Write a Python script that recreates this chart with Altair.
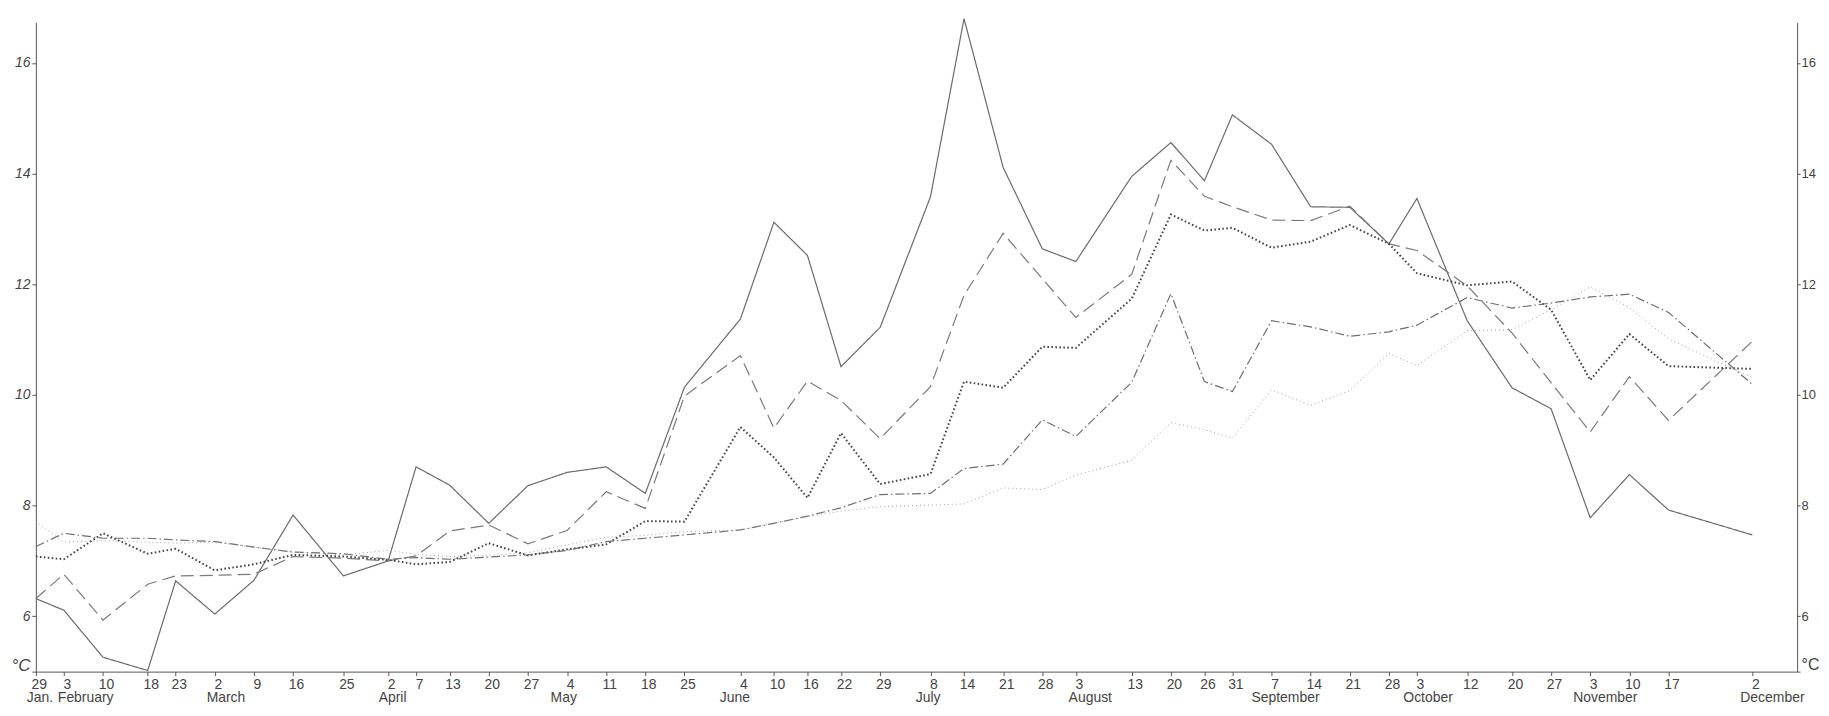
import altair as alt
import pandas as pd

# ---- data ----
dates = [
    "1925-01-29", "1925-02-03", "1925-02-10", "1925-02-18", "1925-02-23",
    "1925-03-02", "1925-03-09", "1925-03-16", "1925-03-25",
    "1925-04-02", "1925-04-07", "1925-04-13", "1925-04-20", "1925-04-27",
    "1925-05-04", "1925-05-11", "1925-05-18", "1925-05-25",
    "1925-06-04", "1925-06-10", "1925-06-16", "1925-06-22", "1925-06-29",
    "1925-07-08", "1925-07-14", "1925-07-21", "1925-07-28",
    "1925-08-03", "1925-08-13", "1925-08-20", "1925-08-26", "1925-08-31",
    "1925-09-07", "1925-09-14", "1925-09-21", "1925-09-28",
    "1925-10-03", "1925-10-12", "1925-10-20", "1925-10-27",
    "1925-11-03", "1925-11-10", "1925-11-17", "1925-12-02",
]

solid = [6.32, 6.11, 5.26, 5.02, 6.64, 6.04, 6.65, 7.83, 6.73,
         7.00, 8.70, 8.37, 7.68, 8.36, 8.60, 8.70, 8.22, 10.14,
         11.37, 13.12, 12.52, 10.51, 11.22, 13.58, 16.80, 14.11, 12.64,
         12.41, 13.95, 14.56, 13.87, 15.06, 14.53, 13.40, 13.39, 12.73,
         13.55, 11.34, 10.13, 9.75, 7.78, 8.56, 7.92, 7.47]

long_dash = [6.32, 6.76, 5.93, 6.58, 6.73, 6.74, 6.76, 7.08, 7.05,
             7.00, 7.09, 7.54, 7.65, 7.31, 7.55, 8.25, 7.95, 9.98,
             10.71, 9.40, 10.25, 9.90, 9.21, 10.15, 11.80, 12.92, 12.10,
             11.40, 12.18, 14.24, 13.59, 13.40, 13.16, 13.15, 13.41, 12.73,
             12.61, 11.97, 11.12, 10.22, 9.33, 10.33, 9.54, 10.97]

heavy_dot = [7.08, 7.03, 7.50, 7.13, 7.22, 6.83, 6.94, 7.11, 7.08,
             7.02, 6.94, 6.98, 7.32, 7.10, 7.21, 7.30, 7.72, 7.71,
             9.42, 8.87, 8.14, 9.31, 8.39, 8.57, 10.24, 10.13, 10.87,
             10.85, 11.74, 13.26, 12.97, 13.02, 12.66, 12.77, 13.07, 12.73,
             12.20, 11.98, 12.05, 11.54, 10.27, 11.10, 10.52, 10.47]

dash_dot = [7.26, 7.50, 7.41, 7.41, 7.38, 7.35, 7.25, 7.16, 7.13,
            7.03, 7.06, 7.03, 7.07, 7.11, 7.19, 7.35, 7.41, 7.47,
            7.56, 7.68, 7.81, 7.96, 8.20, 8.22, 8.67, 8.75, 9.55,
            9.25, 10.23, 11.83, 10.24, 10.06, 11.34, 11.23, 11.06, 11.14,
            11.26, 11.76, 11.57, 11.66, 11.77, 11.82, 11.49, 10.19]

light_dot = [7.71, 7.34, 7.37, 7.34, 7.32, 7.34, 7.25, 7.16, 7.11,
             7.19, 7.12, 7.08, 7.10, 7.15, 7.29, 7.43, 7.46, 7.53,
             7.56, 7.68, 7.80, 7.90, 7.98, 8.01, 8.03, 8.32, 8.29,
             8.55, 8.82, 9.50, 9.37, 9.22, 10.09, 9.81, 10.08, 10.75,
             10.53, 11.16, 11.18, 11.54, 11.95, 11.58, 11.01, 10.31]

month_names = ["Jan.", "February", "March", "April", "May", "June", "July",
               "August", "September", "October", "November", "December"]
month_label_at = ["1925-01-29T17:00:00", "1925-02-06T22:00:00", "1925-03-04T00:00:00",
                  "1925-04-02T19:00:00", "1925-05-03T10:00:00", "1925-06-03T00:00:00",
                  "1925-07-07T14:00:00", "1925-08-05T14:00:00", "1925-09-09T12:00:00",
                  "1925-10-05T00:00:00", "1925-11-05T17:00:00", "1925-12-05T14:00:00"]

y_ticks = [5, 6, 8, 10, 12, 14, 16]

# ---- styling ----
series_names = ["solid", "long dash", "heavy dots", "dash-dot", "light dots"]
series_vals = [solid, long_dash, heavy_dot, dash_dot, light_dot]
series_colors = ["#6a6a6a", "#7a7a7a", "#444444", "#6e6e6e", "#a0a0a0"]
series_dashes = [[1, 0], [13, 6], [1.6, 2.4], [9, 3, 1.5, 3], [1, 3]]
series_widths = [1.2, 1.2, 2.0, 1.2, 1.0]

rows = []
for name, vals in zip(series_names, series_vals):
    for d, v in zip(dates, vals):
        rows.append({"date": d + "T00:00:00", "temp": v, "series": name})
lines_df = pd.DataFrame(rows)
months_df = pd.DataFrame({"name": month_names, "at": month_label_at})

FONT = "Liberation Sans"
INK = "#444444"

x_scale = alt.Scale(domain=[alt.DateTime(year=1925, month=1, date=29),
                            alt.DateTime(year=1925, month=12, date=10)])
y_scale = alt.Scale(domain=[5, 16.73], nice=False, zero=False)

tick_values = [alt.DateTime(year=int(d[0:4]), month=int(d[5:7]), date=int(d[8:10])) for d in dates]

x_axis = alt.Axis(values=tick_values, format="%-d", title=None, grid=False,
                  domainColor="#555", tickColor="#555", tickSize=4,
                  labelFontSize=14, labelColor=INK, labelFont=FONT,
                  labelPadding=2, labelFlush=False, labelOverlap=False, labelOffset=3)

is_unit = "datum.value == 5"
left_axis = alt.Axis(orient="left", values=y_ticks, title=None, grid=False,
                     labelExpr="datum.value == 5 ? '°C' : datum.label",
                     tickSize=4, labelPadding=2,
                     labelFontSize={"condition": {"test": is_unit, "value": 17}, "value": 14},
                     labelOffset={"condition": {"test": is_unit, "value": -6}, "value": 0},
                     labelFont=FONT, labelFontStyle="italic", labelColor=INK,
                     domainColor="#555", tickColor="#555")
right_axis = alt.Axis(orient="right", values=y_ticks, title=None, grid=False,
                      labelExpr="datum.value == 5 ? '°C' : datum.label",
                      tickSize=3, labelPadding=1,
                      labelFontSize={"condition": {"test": is_unit, "value": 16}, "value": 13},
                      labelOffset={"condition": {"test": is_unit, "value": -7}, "value": 0},
                      labelFont=FONT, labelColor=INK, domainColor="#555", tickColor="#555")

x_enc = alt.X("date:T", scale=x_scale, axis=x_axis)

lines = alt.Chart(lines_df).mark_line(strokeCap="butt", strokeJoin="miter").encode(
    x=x_enc,
    y=alt.Y("temp:Q", scale=y_scale, axis=left_axis),
    color=alt.Color("series:N", scale=alt.Scale(domain=series_names, range=series_colors), legend=None),
    strokeDash=alt.StrokeDash("series:N", scale=alt.Scale(domain=series_names, range=series_dashes), legend=None),
    strokeWidth=alt.StrokeWidth("series:N", scale=alt.Scale(type="ordinal", domain=series_names, range=series_widths), legend=None),
)

right = alt.Chart(lines_df).mark_line(opacity=0).encode(
    x=x_enc,
    y=alt.Y("temp:Q", scale=y_scale, axis=right_axis),
    detail="series:N",
)

months = alt.Chart(months_df).mark_text(fontSize=14, color=INK, font=FONT,
                                        baseline="middle", align="center").encode(
    x=alt.X("at:T", scale=x_scale, axis=x_axis),
    y=alt.value(679),
    text="name:N",
)

chart = alt.layer(lines, right, months).resolve_axis(y="independent").properties(
    width=1769, height=652,
    autosize=alt.AutoSizeParams(type="none"),
    padding={"left": 28, "top": 13, "right": 24, "bottom": 35},
).configure_view(stroke=None)

chart.save("out.html", embed_options={"renderer": "svg", "actions": False})
